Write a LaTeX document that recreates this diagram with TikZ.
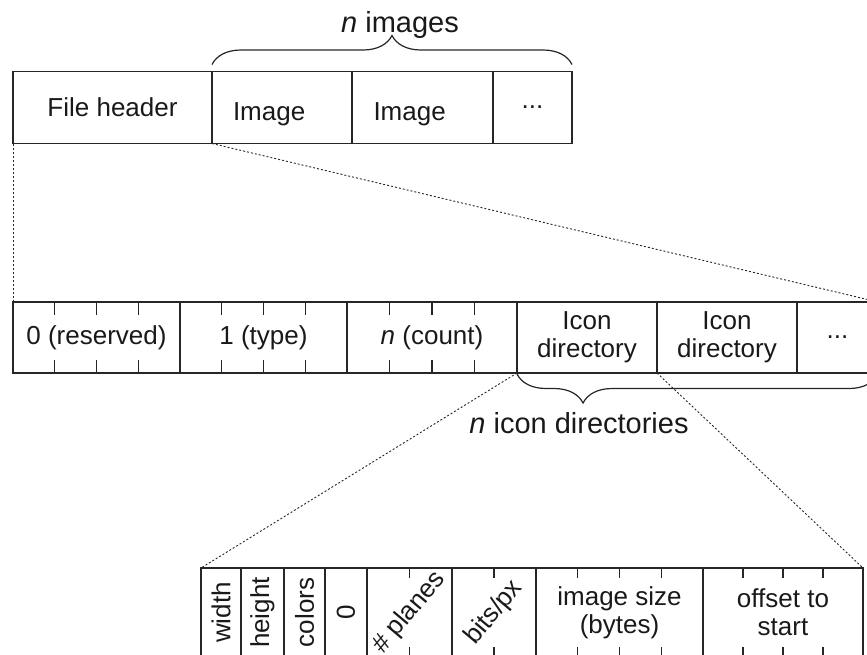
\documentclass[tikz,border=0pt]{standalone}
\usepackage{fontspec}
\setmainfont{Liberation Sans}
\usetikzlibrary{calc,decorations.pathreplacing}
\newcommand{\boxfont}{\fontsize{26}{28}\selectfont}

\begin{document}
\begin{tikzpicture}[x=1pt,y=-1pt,line width=1.2pt,draw=black!85,text=black!90,
    cell/.style={draw,anchor=north west,inner sep=0pt,outer sep=0pt,align=center,font=\boxfont},
    toprow/.style={cell,minimum height=72pt},
    midrow/.style={cell,minimum height=71pt},
    botrow/.style={cell,minimum height=89pt},
    imgcell/.style={toprow,text width=98pt,inner xsep=21pt,align=left,text height=26pt,text depth=0pt},
    lbl/.style={anchor=base,font=\fontsize{29}{32}\selectfont},
    zoomline/.style={line width=0.9pt,dash pattern=on 2pt off 2pt},
    brc/.style={decorate,decoration={brace,amplitude=29pt}}]
    \path[use as bounding box,clip] (0,0) rectangle (867,654);

    \node[toprow,minimum width=199pt] (hdr) at (13,71.5) {File header};
    \node[imgcell,minimum width=140pt] (img1) at (212,71.5) {Image};
    \node[imgcell,minimum width=141pt] (img2) at (352,71.5) {Image};
    \node[toprow,minimum width=79pt] (tdots) at (493,71.5) {...};
    \draw[brc] ($(img1.north west)+(0,-7)$) -- ($(tdots.north east)+(0,-7)$);
    \node[lbl] (nimg) at (400,32) {\textit{n} images};

    \node[midrow,minimum width=167pt] (res) at (13,302) {0 (reserved)};
    \node[midrow,minimum width=167pt] (typ) at (180,302) {1 (type)};
    \node[midrow,minimum width=170pt] (cnt) at (347,302) {\textit{n} (count)};
    \node[midrow,minimum width=140pt] (dir1) at (517,302) {Icon\\directory};
    \node[midrow,minimum width=140pt] (dir2) at (657,302) {Icon\\directory};
    \node[midrow,minimum width=81pt] (mdots) at (797,302) {...};
    \foreach \c in {res,typ,cnt}
        \foreach \q in {1,2,3} {
            \draw ($(\c.north west)!\q/4!(\c.north east)$) -- ++(0,13);
            \draw ($(\c.south west)!\q/4!(\c.south east)$) -- ++(0,-13);
        }
    \draw[brc,decoration={mirror,aspect=0.183}] ($(dir1.south west)+(0,1)$) -- ($(mdots.south east)+(0,1)$);
    \node[lbl] (ndir) at (579,433) {\textit{n} icon directories};

    \foreach \nm/\xa/\w/\ang/\txt in {wid/201/40/90/width,hgt/241/43/90/height,col/284/41/90/colors,
            zer/325/42/90/0,pln/367/85/50/\# planes,bpp/452/84/50/{bits/px}} {
        \node[botrow,minimum width=\w pt] (\nm) at (\xa,568) {};
        \node[rotate=\ang,font=\boxfont] (\nm-t) at (\nm.center) {\txt};
    }
    \node[botrow,minimum width=167pt] (isz) at (536,568) {image size\\(bytes)};
    \node[botrow,minimum width=160pt] (off) at (703,568) {offset to\\start};
    \foreach \c/\f in {pln/0.5,bpp/0.5,isz/0.25,isz/0.5,isz/0.75,off/0.25,off/0.5,off/0.75} {
        \draw ($(\c.north west)!\f!(\c.north east)$) -- ++(0,10);
        \draw ($(\c.south west)!\f!(\c.south east)$) -- ++(0,-10);
    }

    \draw[zoomline] (hdr.south west) -- (res.north west);
    \draw[zoomline] (img1.south west) -- (mdots.north east);
    \draw[zoomline] (dir1.south west) -- (wid.north west);
    \draw[zoomline] (dir2.south west) -- (off.north east);
\end{tikzpicture}
\end{document}
